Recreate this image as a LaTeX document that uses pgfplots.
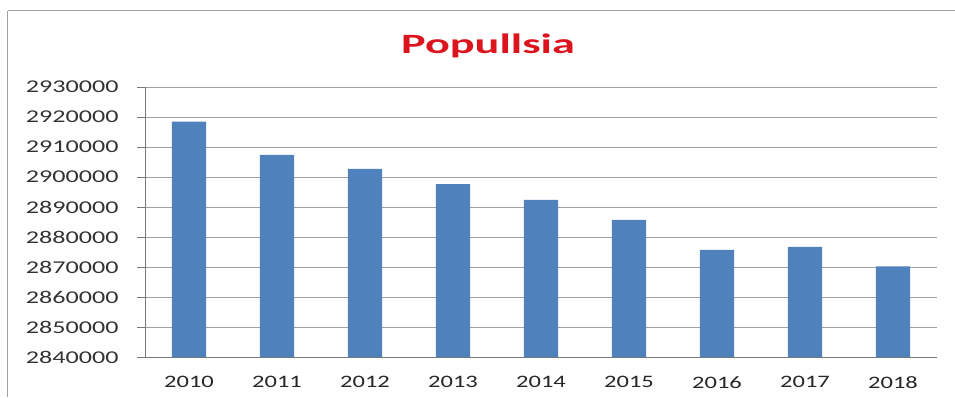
\documentclass[border=0pt]{standalone}
\usepackage{pgfplots}
\pgfplotsset{compat=1.18}
\usepackage{fontspec}
\setmainfont{Carlito}
\definecolor{barblue}{RGB}{79,129,189}
\definecolor{gridgray}{RGB}{160,160,160}
\definecolor{axgray}{RGB}{120,120,120}
\definecolor{titlered}{RGB}{220,20,30}
\begin{document}
\begin{tikzpicture}[x=1pt,y=1pt]
\useasboundingbox (-145,-40) rectangle (810,357);
\draw[color=gridgray,line width=1pt] (-137,346) -- (810,346);
\draw[color=gridgray,line width=1pt] (-137,346) -- (-137,-40);
\begin{axis}[
  at={(0,0)}, anchor=south west,
  scale only axis, width=792pt, height=270pt,
  /pgf/number format/assume math mode=true,
  xmin=-0.5, xmax=8.5, ymin=2840000, ymax=2930000,
  ytick={2840000,2850000,...,2930000},
  scaled y ticks=false,
  yticklabel={\scalebox{1.45}[1]{\fontsize{18}{20}\selectfont\pgfmathprintnumber[fixed,1000 sep={},assume math mode=true]{\tick}}},
  yticklabel style={text=black!80, xshift=-15pt},
  xtick={0,...,8},
  xticklabels={2010,2011,2012,2013,2014,2015,2016,2017,2018},
  xticklabel style={font=\fontsize{17.5}{20}\selectfont, xscale=1.4, yshift=-8pt, text=black!85},
  x tick style={draw=none},
  extra x ticks={-0.5,0.5,...,8.5},
  extra x tick labels={},
  extra x tick style={grid=none, tick style={draw=axgray, line width=0.8pt}, major tick length=6pt, tick align=outside},
  axis x line*=bottom, axis y line*=left,
  axis line style={draw=axgray, line width=0.8pt, -},
  y tick style={draw=axgray, line width=0.8pt},
  tick align=outside, major tick length=8pt,
  ymajorgrids, grid style={draw=gridgray, line width=0.8pt},
]
\addplot[ybar, bar width=0.39, fill=barblue, draw=none] coordinates {
(0,2918500) (1,2907400) (2,2902700) (3,2897600) (4,2892400)
(5,2885700) (6,2875700) (7,2876700) (8,2870200)};
\end{axis}
\node[text=titlered, font=\bfseries\fontsize{28}{30}\selectfont, xscale=1.65] at (343,311) {Popullsia};
\end{tikzpicture}
\end{document}
